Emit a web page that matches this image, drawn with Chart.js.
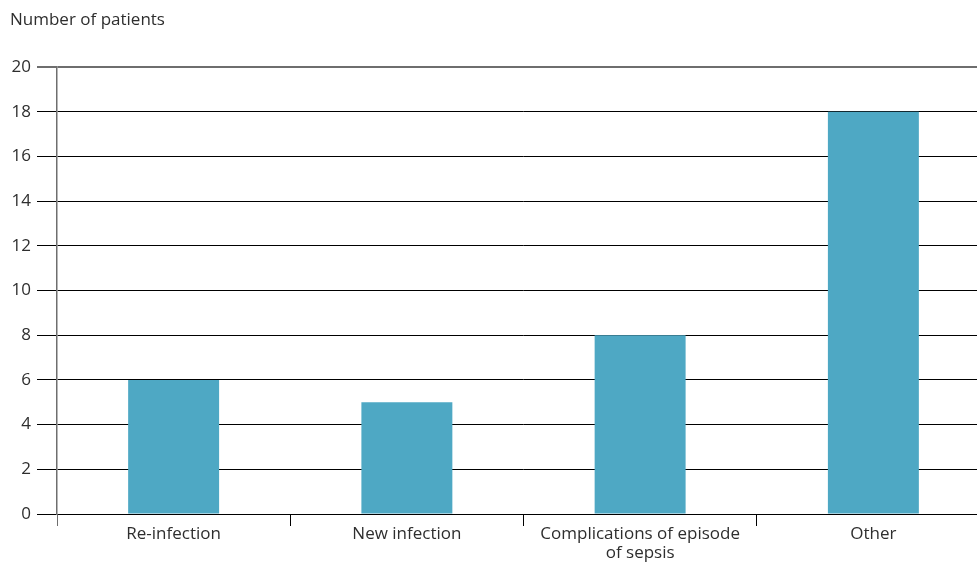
<!DOCTYPE html>
<html>
<head>
<meta charset="utf-8">
<script src="https://cdn.jsdelivr.net/npm/chart.js@4"></script>
<style>
  html, body { margin: 0; padding: 0; background: #fff; overflow: hidden; }
  #wrap { width: 1000px; height: 580px; }
</style>
</head>
<body>
<div id="wrap"><canvas id="barChart"></canvas></div>
<script>
// data
const categories = ["Re-infection", "New infection", ["Complications of episode", "of sepsis"], "Other"];
const patients = [6, 5, 8, 18];
const yTicks = [0, 2, 4, 6, 8, 10, 12, 14, 16, 18, 20];

const textColor = "#2e2e2e";
const greyLine = "#6e6e6e";

const ctx = document.getElementById("barChart").getContext("2d");
new Chart(ctx, {
  type: "bar",
  data: {
    labels: categories,
    datasets: [
      {
        label: "Number of patients",
        data: patients,
        backgroundColor: "#4ea8c4",
        borderWidth: 0,
        categoryPercentage: 1,
        barPercentage: 0.39,
      },
    ],
  },
  options: {
    responsive: true,
    maintainAspectRatio: false,
    animation: false,
    layout: { padding: { left: 10, right: 10, top: 0, bottom: 0 } },
    plugins: {
      legend: { display: false },
      tooltip: { enabled: false },
      title: {
        display: true,
        text: "Number of patients",
        align: "start",
        color: textColor,
        font: { family: "Open Sans", size: 17, weight: "normal", lineHeight: 1.2 },
        padding: { top: 10, bottom: 36.6 },
      },
    },
    scales: {
      x: {
        afterFit: (scale) => { scale.height = 66; },
        border: { display: false },
        grid: {
          offset: true,
          drawOnChartArea: false,
          drawTicks: true,
          tickLength: 12,
          color: (c) => (c.index === 0 ? greyLine : "#000"),
          lineWidth: 1,
        },
        ticks: {
          color: textColor,
          font: { family: "Open Sans", size: 17, lineHeight: 1.12 },
          maxRotation: 0,
          autoSkip: false,
          padding: -1.5,
        },
      },
      y: {
        min: 0,
        max: 20,
        afterFit: (scale) => { scale.width = 47; },
        afterBuildTicks: (scale) => { scale.ticks = yTicks.map((v) => ({ value: v })); },
        border: { display: true, color: greyLine, width: 1.5 },
        grid: {
          color: (c) => (c.tick && c.tick.value === 20 ? greyLine : "#000"),
          lineWidth: (c) => (c.tick && c.tick.value === 20 ? 2 : 1),
          tickLength: 20,
        },
        ticks: {
          color: textColor,
          font: { family: "Open Sans", size: 17 },
          padding: 6,
        },
      },
    },
  },
});
</script>
</body>
</html>
